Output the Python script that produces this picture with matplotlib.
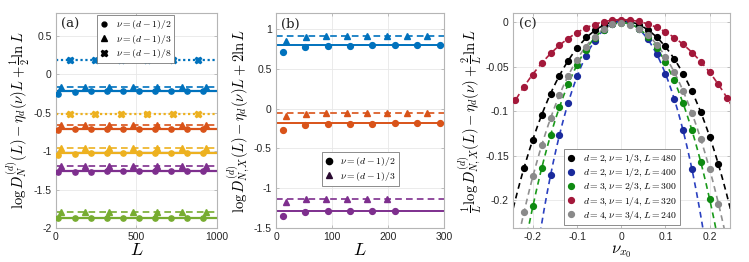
import numpy as np
import matplotlib
matplotlib.use("Agg")
import matplotlib.pyplot as plt
from matplotlib.lines import Line2D

plt.rcParams['font.family'] = ['Liberation Sans', 'DejaVu Sans']
plt.rcParams['mathtext.fontset'] = 'cm'
plt.rcParams['axes.unicode_minus'] = False

# ---------------- data: panel (a) ----------------
La_circ = [15, 115, 215, 315, 415, 515, 615, 715, 815, 915]
La_tri = [30, 180, 330, 480, 630, 780, 930]
La_x = [85, 245, 405, 565, 725, 885]

a_blue_circ = [-0.25, -0.225, -0.222, -0.22, -0.22, -0.22, -0.22, -0.22, -0.22, -0.22]
a_blue_tri = [-0.165, -0.16, -0.16, -0.16, -0.16, -0.16, -0.16]
a_blue_x = [0.19, 0.19, 0.19, 0.19, 0.19, 0.19]
a_orange_circ = [-0.73, -0.716, -0.715, -0.714, -0.714, -0.714, -0.714, -0.714, -0.714, -0.714]
a_orange_tri = [-0.66, -0.658, -0.658, -0.658, -0.658, -0.658, -0.658]
a_yellow_circ = [-1.045, -1.03, -1.028, -1.026, -1.026, -1.026, -1.026, -1.026, -1.026, -1.026]
a_yellow_tri = [-0.955, -0.952, -0.952, -0.952, -0.952, -0.952, -0.952]
a_yellow_x = [-0.51, -0.51, -0.51, -0.51, -0.51, -0.51]
a_purple_circ = [-1.275, -1.266, -1.265, -1.264, -1.264, -1.264, -1.264, -1.264, -1.264, -1.264]
a_purple_tri = [-1.19, -1.19, -1.19, -1.19, -1.19, -1.19, -1.19]
a_green_circ = [-1.87, -1.866, -1.865, -1.865, -1.865, -1.865, -1.865, -1.865, -1.865, -1.865]
a_green_tri = [-1.79, -1.79, -1.79, -1.79, -1.79, -1.79, -1.79]
a_lines_circ = [-0.218, -0.714, -1.026, -1.264, -1.865]
a_lines_tri = [-0.16, -0.658, -0.952, -1.19, -1.79]
a_lines_x = [0.19, -0.51]

# ---------------- data: panel (b) ----------------
Lb_circ = [12, 52, 92, 132, 172, 212, 252, 292]
Lb_tri = [18, 54, 90, 126, 162, 198, 234, 270]
b_blue_circ = [0.714, 0.772, 0.785, 0.79, 0.792, 0.793, 0.794, 0.795]
b_blue_tri = [0.85, 0.90, 0.905, 0.907, 0.908, 0.909, 0.91, 0.91]
b_orange_circ = [-0.265, -0.206, -0.195, -0.19, -0.188, -0.186, -0.185, -0.184]
b_orange_tri = [-0.097, -0.067, -0.062, -0.06, -0.058, -0.057, -0.056, -0.056]
b_purple_circ = [-1.348, -1.30, -1.292, -1.29, -1.288, -1.287]
b_purple_tri = [-1.168, -1.138, -1.134, -1.132, -1.131, -1.13]
b_lines_circ = [0.797, -0.18, -1.285]
b_lines_tri = [0.91, -0.055, -1.13]

# ---------------- data: panel (c) ----------------
c_red_x = [-0.24, -0.22, -0.20, -0.18, -0.16, -0.14, -0.12, -0.10, -0.08, -0.06, -0.04, -0.02, 0.0,
           0.02, 0.04, 0.06, 0.08, 0.10, 0.12, 0.14, 0.16, 0.18, 0.20, 0.22, 0.24]
c_red_y = [-0.088, -0.0726, -0.059, -0.0459, -0.0346, -0.0252, -0.0184, -0.012, -0.0064, -0.0026,
           0.0004, 0.0023, 0.003, 0.0026, 0.0011, -0.0015, -0.0056, -0.0109, -0.0173, -0.0248,
           -0.0342, -0.0447, -0.0564, -0.0695, -0.0857]
c_black_x = [-0.22, -0.20, -0.18, -0.16, -0.14, -0.12, -0.10, -0.08, -0.06, -0.04, -0.02, 0.0,
             0.02, 0.04, 0.06, 0.08, 0.10, 0.12, 0.14, 0.16, 0.18, 0.20, 0.22]
c_black_y = [-0.1635, -0.132, -0.104, -0.0808, -0.0605, -0.0432, -0.029, -0.0169, -0.0086, -0.003,
             0.0, 0.0008, 0.0, -0.003, -0.0083, -0.0165, -0.027, -0.041, -0.058, -0.0778, -0.1015,
             -0.1286, -0.160]
c_gray_x = c_black_x
c_gray_y = [-0.214, -0.173, -0.138, -0.108, -0.0823, -0.0605, -0.0421, -0.0274, -0.0162, -0.0075,
            -0.0023, -0.0008, -0.0026, -0.0071, -0.0147, -0.0252, -0.0387, -0.0564, -0.077, -0.102,
            -0.1316, -0.165, -0.2045]
c_green_x = [-0.20, -0.18, -0.16, -0.14, -0.12, -0.10, -0.08, -0.06, -0.04, -0.02, 0.0,
             0.02, 0.04, 0.06, 0.08, 0.10, 0.12, 0.14, 0.16, 0.18, 0.20]
c_green_y = [-0.207, -0.164, -0.1274, -0.0959, -0.0695, -0.0477, -0.0308, -0.0173, -0.0083, -0.0019,
             -0.0004, -0.0019, -0.0075, -0.0165, -0.029, -0.045, -0.0654, -0.091, -0.1218, -0.1575,
             -0.199]
c_blue_x = [-0.16, -0.14, -0.12, -0.10, -0.08, -0.06, -0.04, -0.02, 0.0,
            0.02, 0.04, 0.06, 0.08, 0.10, 0.12, 0.14, 0.16]
c_blue_y = [-0.172, -0.1274, -0.091, -0.0609, -0.0376, -0.0207, -0.0083, -0.0015, 0.0, -0.0011,
            -0.0075, -0.0188, -0.0353, -0.0583, -0.0865, -0.1218, -0.1654]
c_labels = [r'$d=2,\nu=1/3,L=480$', r'$d=2,\nu=1/2,L=400$', r'$d=3,\nu=2/3,L=300$',
            r'$d=3,\nu=1/4,L=320$', r'$d=4,\nu=3/4,L=240$']

# ---------------- styles ----------------
C_BLUE = '#0072BD'
C_ORANGE = '#D95319'
C_YELLOW = '#EDB120'
C_PURPLE = '#7E2F8E'
C_GREEN = '#77AC30'
SPINE = '#b5b5b5'
TICKC = '#262626'

fig = plt.figure(figsize=(7.49, 2.62), dpi=100)
H = 262.0
W = 749.0
bot = (H - 228) / H
top = 13 / H
hgt = 1 - bot - top
axA = fig.add_axes([56 / W, bot, (217 - 56) / W, hgt])
axB = fig.add_axes([276 / W, bot, (444 - 276) / W, hgt])
axC = fig.add_axes([513 / W, bot, (729.5 - 513) / W, hgt])


def style(ax):
    for s in ax.spines.values():
        s.set_color(SPINE)
        s.set_linewidth(0.8)
    ax.tick_params(direction='in', length=2.5, width=0.6, color=SPINE,
                   labelsize=7.5, labelcolor=TICKC, top=True, right=True, pad=3)
    ax.grid(True, color='#e8e8e8', lw=0.6)
    ax.set_axisbelow(True)


# ---------- panel (a) ----------
ax = axA
style(ax)
ms = 3.8
colors_a = [C_BLUE, C_ORANGE, C_YELLOW, C_PURPLE, C_GREEN]
circ_a = [a_blue_circ, a_orange_circ, a_yellow_circ, a_purple_circ, a_green_circ]
tri_a = [a_blue_tri, a_orange_tri, a_yellow_tri, a_purple_tri, a_green_tri]
for c, yc, yt, lc, lt in zip(colors_a, circ_a, tri_a, a_lines_circ, a_lines_tri):
    ax.axhline(lc, color=c, lw=1.6, ls='-', zorder=2)
    ax.axhline(lt, color=c, lw=1.2, ls=(0, (4, 2.5)), zorder=2)
    ax.plot(La_circ, yc, 'o', color=c, ms=ms, mec=c, zorder=3)
    ax.plot(La_tri, yt, '^', color=c, ms=ms + 0.3, mec=c, zorder=3)
for c, yx, lx in zip([C_BLUE, C_YELLOW], [a_blue_x, a_yellow_x], a_lines_x):
    ax.axhline(lx, color=c, lw=1.6, ls=(0, (1, 1.2)), zorder=2)
    ax.plot(La_x, yx, 'X', color=c, ms=ms + 0.6, mec=c, zorder=3)
ax.set_xlim(0, 1000)
ax.set_ylim(-2, 0.8)
ax.set_xticks([0, 500, 1000])
ax.set_yticks([-2, -1.5, -1, -0.5, 0, 0.5])
ax.set_yticklabels(['-2', '-1.5', '-1', '-0.5', '0', '0.5'])
ax.set_xlabel('$L$', fontsize=13, labelpad=0)
ax.set_ylabel(r'$\log D_N^{(d)}(L) - \eta_d(\nu)L + \frac{1}{2}\ln L$', fontsize=10.5, labelpad=1)
ax.text(0.03, 0.975, '(a)', transform=ax.transAxes, ha='left', va='top',
        family='DejaVu Serif', fontsize=9.5, color='#202020')
hA = [Line2D([], [], ls='none', marker='o', color='k', ms=3.5),
      Line2D([], [], ls='none', marker='^', color='k', ms=3.8),
      Line2D([], [], ls='none', marker='X', color='k', ms=4.5)]
legA = ax.legend(hA, [r'$\nu=(d-1)/2$', r'$\nu=(d-1)/3$', r'$\nu=(d-1)/8$'],
                 loc='upper left', bbox_to_anchor=(0.255, 0.99), fontsize=7,
                 frameon=True, fancybox=False, edgecolor='#7a7a7a', framealpha=1,
                 handlelength=0.8, handletextpad=0.8, borderpad=0.3, labelspacing=0.15,
                 borderaxespad=0)
legA.get_frame().set_linewidth(0.6)

# ---------- panel (b) ----------
ax = axB
style(ax)
colors_b = [C_BLUE, C_ORANGE, C_PURPLE]
circ_b = [b_blue_circ, b_orange_circ, b_purple_circ]
tri_b = [b_blue_tri, b_orange_tri, b_purple_tri]
for c, yc, yt, lc, lt in zip(colors_b, circ_b, tri_b, b_lines_circ, b_lines_tri):
    ax.axhline(lc, color=c, lw=1.4, ls='-', zorder=2)
    ax.axhline(lt, color=c, lw=1.2, ls=(0, (4, 2.5)), zorder=2)
    ax.plot(Lb_circ[:len(yc)], yc, 'o', color=c, ms=4.2, mec=c, zorder=3)
    ax.plot(Lb_tri[:len(yt)], yt, '^', color=c, ms=4.4, mec=c, zorder=3)
ax.set_xlim(0, 300)
ax.set_ylim(-1.5, 1.2)
ax.set_xticks([0, 100, 200, 300])
ax.set_yticks([-1.5, -1, -0.5, 0, 0.5, 1])
ax.set_yticklabels(['-1.5', '-1', '-0.5', '0', '0.5', '1'])
ax.set_xlabel('$L$', fontsize=13, labelpad=0)
ax.set_ylabel(r'$\log D_{N,X}^{(d)}(L) - \eta_d(\nu)L + 2\ln L$', fontsize=10.5, labelpad=1)
ax.text(0.03, 0.975, '(b)', transform=ax.transAxes, ha='left', va='top',
        family='DejaVu Serif', fontsize=9.5, color='#202020')
hB = [Line2D([], [], ls='none', marker='o', color='k', ms=4.5),
      Line2D([], [], ls='none', marker='^', color='#2a0a30', ms=4.8)]
legB = ax.legend(hB, [r'$\nu=(d-1)/2$', r'$\nu=(d-1)/3$'],
                 loc='upper left', bbox_to_anchor=(0.272, 0.352), fontsize=7,
                 frameon=True, fancybox=False, edgecolor='#7a7a7a', framealpha=1,
                 handlelength=0.8, handletextpad=0.8, borderpad=0.3, labelspacing=0.15,
                 borderaxespad=0)
legB.get_frame().set_linewidth(0.6)

# ---------- panel (c) ----------
ax = axC
style(ax)
series_c = [
    (c_black_x, c_black_y, '#000000', '#000000'),
    (c_blue_x, c_blue_y, '#1a2a9c', '#2a40c0'),
    (c_green_x, c_green_y, '#0f8a12', '#1a9a1a'),
    (c_red_x, c_red_y, '#a3183a', '#b02040'),
    (c_gray_x, c_gray_y, '#8a8a8a', '#909090'),
]
xx = np.linspace(-0.26, 0.26, 300)
handles_c = []
for (xs, ys, col, lcol), lab in zip(series_c, c_labels):
    p = np.polyfit(xs, ys, 4)
    ax.plot(xx, np.polyval(p, xx), color=lcol, lw=1.2, ls=(0, (3.5, 2.5)), zorder=2)
for (xs, ys, col, lcol), lab in zip(series_c, c_labels):
    h, = ax.plot(xs, ys, 'o', color=col, mec=col, ms=4.2, zorder=3, label=lab)
    handles_c.append(h)
ax.set_xlim(-0.245, 0.245)
ax.set_ylim(-0.2316, 0.0105)
ax.set_xticks([-0.2, -0.1, 0, 0.1, 0.2])
ax.set_xticklabels(['-0.2', '-0.1', '0', '0.1', '0.2'])
ax.set_yticks([-0.2, -0.15, -0.1, -0.05, 0])
ax.set_yticklabels(['-0.2', '-0.15', '-0.1', '-0.05', '0'])
ax.set_xlabel(r'$\nu_{x_0}$', fontsize=12, labelpad=1)
ax.set_ylabel(r'$\frac{1}{L}\log D_{N,X}^{(d)}(L) - \eta_d(\nu) + \frac{2}{L}\ln L$',
              fontsize=10.5, labelpad=1)
ax.text(0.03, 0.975, '(c)', transform=ax.transAxes, ha='left', va='top',
        family='DejaVu Serif', fontsize=9.5, color='#202020')
legC = ax.legend(handles_c, c_labels, loc='upper left', bbox_to_anchor=(0.237, 0.367),
                 fontsize=7, frameon=True, fancybox=False, edgecolor='#7a7a7a', framealpha=1,
                 handlelength=0.8, handletextpad=0.8, borderpad=0.3, labelspacing=0.12,
                 borderaxespad=0)
legC.get_frame().set_linewidth(0.6)

fig.savefig('out.png', dpi=100)
